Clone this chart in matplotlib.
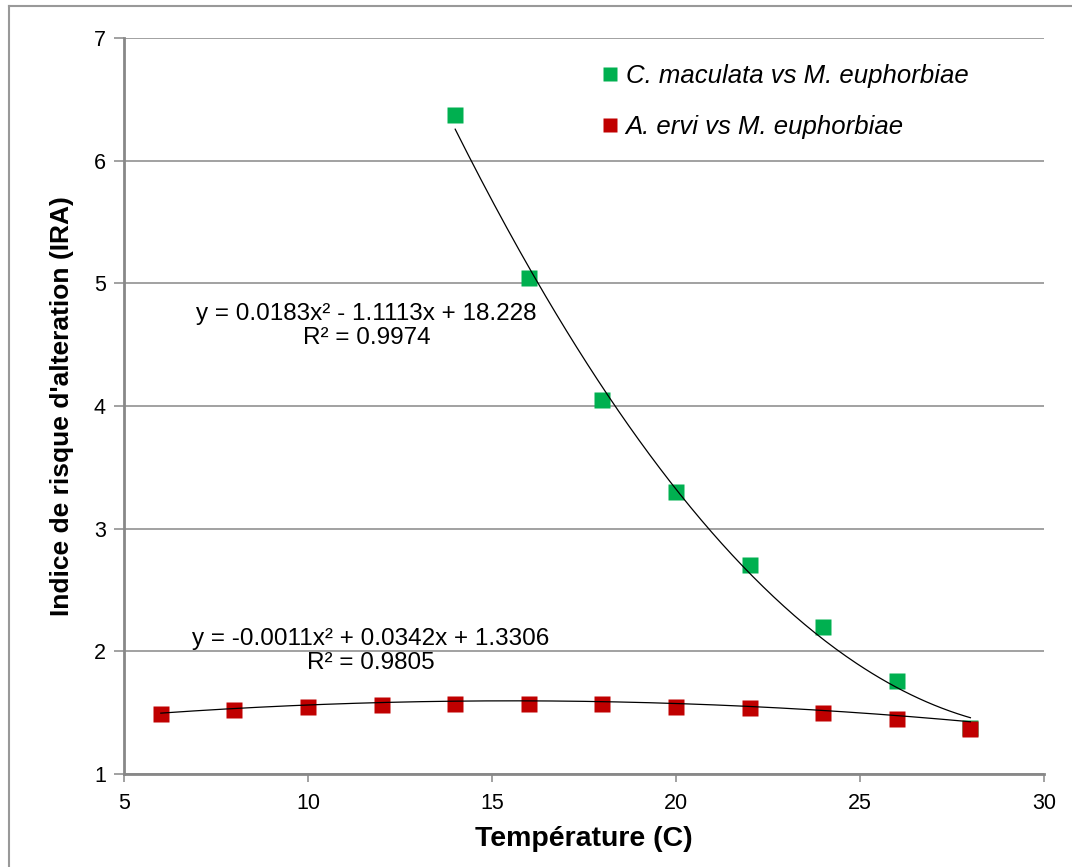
import numpy as np
import matplotlib.pyplot as plt
from matplotlib.lines import Line2D

plt.rcParams['font.family'] = ['Liberation Sans', 'DejaVu Sans']

# Températures et indices IRA
temp_cm = [14, 16, 18, 20, 22, 24, 26, 28]
ira_cm = [6.37, 5.04, 4.05, 3.30, 2.70, 2.20, 1.755, 1.375]

temp_ae = [6, 8, 10, 12, 14, 16, 18, 20, 22, 24, 26, 28]
ira_ae = [1.49, 1.52, 1.55, 1.56, 1.57, 1.57, 1.57, 1.55, 1.54, 1.50, 1.446, 1.367]

# Coefficients des courbes de tendance polynomiales (ordre 2)
coef_cm = [0.0183, -1.1113, 18.228]
r2_cm = 0.9974
coef_ae = [-0.0011, 0.0342, 1.3306]
r2_ae = 0.9805

vert = '#00B050'
rouge = '#C00000'
gris = '#888888'

fig = plt.figure(figsize=(10.72, 8.67), dpi=100)
ax = fig.add_axes([124/1072, 1 - 774/867, (1044 - 124)/1072, (774 - 38)/867])

# cadre du graphique (bords gauche et haut)
fig.add_artist(Line2D([9/1072, 9/1072], [0, 1 - 6/867], transform=fig.transFigure, color='#999999', lw=1.5))
fig.add_artist(Line2D([9/1072, 1], [1 - 6/867, 1 - 6/867], transform=fig.transFigure, color='#999999', lw=1.5))

# courbes de tendance
xc = np.linspace(min(temp_cm), max(temp_cm), 200)
xa = np.linspace(min(temp_ae), max(temp_ae), 200)
ax.plot(xc, np.polyval(coef_cm, xc), color='black', lw=0.9, zorder=3)
ax.plot(xa, np.polyval(coef_ae, xa), color='black', lw=0.9, zorder=3)

ax.plot(temp_cm, ira_cm, 's', color=vert, ms=12, mec='none', zorder=2)
ax.plot(temp_ae, ira_ae, 's', color=rouge, ms=12, mec='none', zorder=2)

def equation(c, r2):
    s1 = '-' if c[1] < 0 else '+'
    s2 = '-' if c[2] < 0 else '+'
    return 'y = %gx² %s %gx %s %g\nR² = %g' % (c[0], s1, abs(c[1]), s2, abs(c[2]), r2)

ax.text(11.59, 4.652, equation(coef_cm, r2_cm), ha='center', va='center', fontsize=17.5, linespacing=1.12)
ax.text(11.71, 1.999, equation(coef_ae, r2_ae), ha='center', va='center', fontsize=17.5, linespacing=1.12)

ax.set_xlim(5, 30)
ax.set_ylim(1, 7)
ax.set_xticks([5, 10, 15, 20, 25, 30])
ax.set_yticks([1, 2, 3, 4, 5, 6, 7])
ax.yaxis.grid(True, color=gris, lw=1.1)
ax.set_axisbelow(True)
for s in ['top', 'right']:
    ax.spines[s].set_visible(False)
for s in ['left', 'bottom']:
    ax.spines[s].set_color(gris)
    ax.spines[s].set_linewidth(2)
ax.tick_params(axis='y', length=7, width=1.1, color=gris, labelsize=15.5, pad=6)
ax.tick_params(axis='x', length=6, width=1.1, color=gris, labelsize=15.5, pad=8)

ax.set_xlabel('Température (C)', fontsize=20.5, fontweight='bold', labelpad=8)
ax.set_ylabel("Indice de risque d'alteration (IRA)", fontsize=19, fontweight='bold', labelpad=14)

poignees = [Line2D([], [], ls='none', marker='s', color=vert, ms=10, mec='none'),
            Line2D([], [], ls='none', marker='s', color=rouge, ms=10, mec='none')]
noms = ['C. maculata vs M. euphorbiae', 'A. ervi vs M. euphorbiae']
leg = ax.legend(poignees, noms, loc='upper left', bbox_to_anchor=(0.495, 0.996), frameon=False,
                prop={'size': 18.5, 'style': 'italic'}, handlelength=0.6, handletextpad=0.3,
                labelspacing=1.04)

fig.savefig('out.png', dpi=100)
